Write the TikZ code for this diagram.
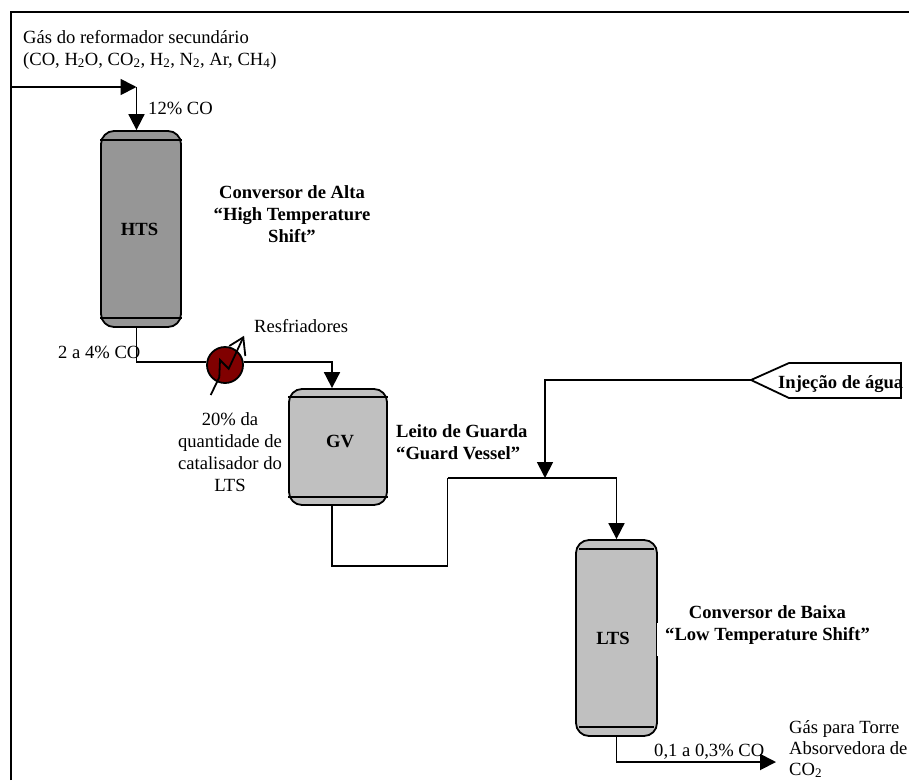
\documentclass[tikz,border=0pt]{standalone}
\usepackage{fontspec}
\setmainfont{Liberation Serif}
\usetikzlibrary{arrows.meta}
\definecolor{darkgrayfill}{HTML}{969696}
\definecolor{lightgrayfill}{HTML}{C0C0C0}
\definecolor{coolerred}{HTML}{800000}
\tikzset{
    pipe/.style={line width=1.8pt,line join=miter},
    flow/.style={pipe,-{Triangle[length=16pt,width=16pt]}},
    vessel/.style={draw,line width=1.8pt,rounded corners=13pt,inner sep=0pt,
        font=\fontsize{18.6}{22}\selectfont\bfseries},
    txt/.style={inner sep=0pt,font=\fontsize{18.6}{22}\selectfont},
    boldtxt/.style={txt,font=\fontsize{18.6}{22}\selectfont\bfseries}
}
\begin{document}
\begin{tikzpicture}[x=1pt,y=-1pt,line cap=butt]
\useasboundingbox (0,0) rectangle (909,780);
\draw[line width=2pt] (10.5,780)--(10.5,12)--(909,12);
\node[vessel,fill=darkgrayfill,minimum width=80pt,minimum height=196pt] (hts) at (141,229) {\hspace*{-3pt}HTS};
\node[vessel,fill=lightgrayfill,minimum width=98pt,minimum height=116pt] (gv) at (338,447) {\hspace*{4pt}\raisebox{12pt}{GV}};
\node[vessel,fill=lightgrayfill,minimum width=81pt,minimum height=196pt] (lts) at (616.5,638) {\hspace*{-7pt}\raisebox{-4pt}{LTS}};
\node[circle,draw,line width=1.8pt,fill=coolerred,minimum size=36pt,inner sep=0pt] (cooler) at (225,365) {};
\foreach \v/\d/\i in {
    hts/10/0,
    gv/9/0,
    lts/10/4
}
{
    \draw[line width=1.8pt] ([xshift=\i pt,yshift=-\d pt]\v.north west)--([xshift=-\i pt,yshift=-\d pt]\v.north east);
    \draw[line width=1.8pt] ([xshift=\i pt,yshift=\d pt]\v.south west)--([xshift=-\i pt,yshift=\d pt]\v.south east);
}
\fill[white] (657,623) rectangle (659,656);
\coordinate (inlet) at (10.5,87);
\coordinate (bend) at (136.5,87);
\coordinate (kinklow) at (447.5,566);
\coordinate (kinkhigh) at (447.5,478);
\coordinate (junction) at (545,478);
\coordinate (watertip) at (751,380);
\coordinate (outlet) at (776,762);
\draw[flow] (inlet)--(bend);
\draw[flow] (bend)--([xshift=-4.5pt]hts.north);
\draw[pipe] ([xshift=-4.5pt]hts.south) |- ([yshift=3pt]cooler.west);
\draw[flow] ([yshift=3pt]cooler.east) -| ([xshift=-6pt]gv.north);
\draw[pipe] ([xshift=-6pt]gv.south) |- (kinklow)--(kinkhigh);
\draw[flow] (kinkhigh) -| (lts.north);
\draw[flow] (watertip) -| (junction);
\draw[flow] (lts.south) |- (outlet);
\draw[line width=1.8pt] (watertip)--(789,363)--(901,363)--(901,398)--(789,398)--cycle;
\draw[line width=1.8pt] (210.7,395)--(219.3,377.3)--(220,360)--(228.7,368.7)--(243.3,337.3);
\draw[line width=1.8pt] (229.3,346)--(243.3,337.3)--(245.3,356);
\node[txt,anchor=west,align=left] (feed) at (23,49.5) {G\'as do reformador secund\'ario\\(CO, H\textsubscript{2}O, CO\textsubscript{2}, H\textsubscript{2}, N\textsubscript{2}, Ar, CH\textsubscript{4})};
\node[txt,anchor=west] (co12) at (148,108) {12\% CO};
\node[boldtxt,align=center] (alta) at (292,214) {Conversor de Alta\\“High Temperature\\Shift”};
\node[txt,anchor=west] (resf) at (254,326) {Resfriadores};
\node[txt,anchor=west] (co4) at (58,352) {2 a 4\% CO};
\node[txt,align=center] (cat) at (230,452) {20\% da\\quantidade de\\catalisador do\\LTS};
\node[boldtxt,anchor=west,align=left] (leito) at (396,442.5) {Leito de Guarda\\“Guard Vessel”};
\node[boldtxt,anchor=west] (water) at (778,384) {Inje\c{c}\~ao de \'agua};
\node[boldtxt,align=center] (baixa) at (767.5,625) {Conversor de Baixa\\“Low Temperature Shift”};
\node[txt,anchor=west] (co03) at (654,752) {0,1 a 0,3\% CO};
\node[txt,anchor=west,align=left,font=\fontsize{18.6}{21}\selectfont] (torre) at (789,749) {G\'as para Torre\\Absorvedora de\\CO\textsubscript{2}};
\end{tikzpicture}
\end{document}
